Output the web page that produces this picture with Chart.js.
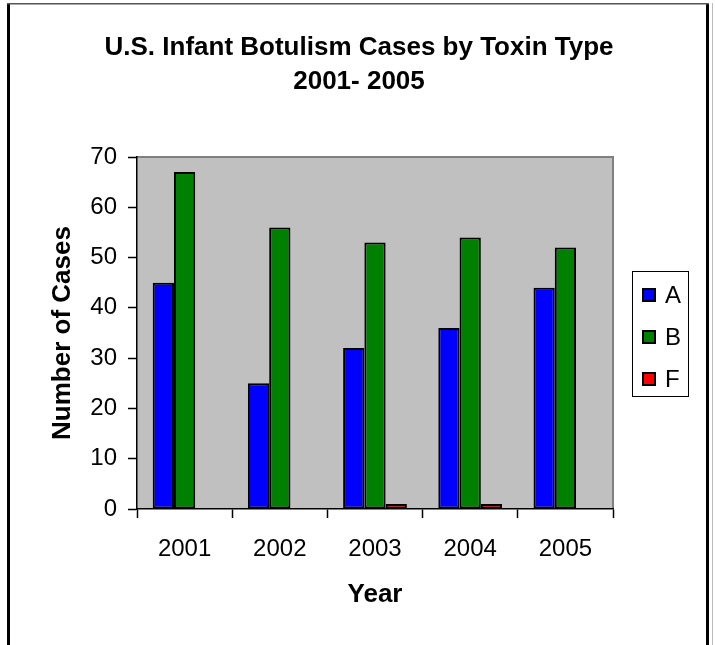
<!DOCTYPE html>
<html><head><meta charset="utf-8">
<script src="https://cdn.jsdelivr.net/npm/chart.js@4"></script>
<style>html,body{margin:0;padding:0;background:#fff;} #wrap{position:relative;width:715px;height:645px;}</style>
</head><body><div id="wrap"><canvas id="c" width="715" height="645"></canvas></div>
<script>
const years = ['2001', '2002', '2003', '2004', '2005'];
const typeA = [45, 25, 32, 36, 44];
const typeB = [67, 56, 53, 54, 52];
const typeF = [0, 0, 1, 1, 0];
const seriesNames = ['A', 'B', 'F'];
const seriesColors = ['#0000FF', '#008000', '#FF0000'];
const yMin = 0, yMax = 70, yStep = 10;
const titleLines = ['U.S. Infant Botulism Cases by Toxin Type', '2001- 2005'];
const xTitle = 'Year';
const yTitle = 'Number of Cases';

const FONT = "'Liberation Sans', Arial, sans-serif";

const decor = {
  id: 'decor',
  beforeDraw(chart) {
    const {ctx, chartArea: a} = chart;
    ctx.save();
    ctx.fillStyle = '#ffffff';
    ctx.fillRect(0, 0, chart.width, chart.height);
    ctx.fillStyle = '#C0C0C0';
    ctx.fillRect(a.left, a.top, a.right - a.left, a.bottom - a.top);
    ctx.strokeStyle = '#808080';
    ctx.lineWidth = 2;
    ctx.beginPath();
    ctx.moveTo(a.left, a.top);
    ctx.lineTo(a.right, a.top);
    ctx.lineTo(a.right, a.bottom);
    ctx.stroke();
    ctx.restore();
  },
  afterDraw(chart) {
    const {ctx} = chart;
    ctx.save();
    // title
    ctx.fillStyle = '#000';
    ctx.font = 'bold 26px ' + FONT;
    ctx.textAlign = 'center';
    ctx.textBaseline = 'middle';
    ctx.fillText(titleLines[0], 359, 48);
    ctx.fillText(titleLines[1], 359, 82);
    // legend
    ctx.strokeStyle = '#000';
    ctx.lineWidth = 1;
    ctx.strokeRect(632.5, 271.5, 56, 125);
    const ds = chart.data.datasets;
    const ys = [295, 337, 379];
    ctx.font = '24px ' + FONT;
    ctx.textAlign = 'left';
    ds.forEach((d, i) => {
      ctx.fillStyle = d.backgroundColor;
      ctx.fillRect(643, ys[i] - 6, 12, 12);
      ctx.lineWidth = 2;
      ctx.strokeRect(643, ys[i] - 6, 12, 12);
      ctx.fillStyle = '#000';
      ctx.fillText(d.label, 665, ys[i] + 1);
    });
    // outer frame
    ctx.fillStyle = '#000';
    ctx.fillRect(7, 3, 3, 642);
    ctx.fillRect(706, 3, 3, 642);
    ctx.fillStyle = '#555';
    ctx.fillRect(7, 3, 702, 1.5);
    ctx.fillStyle = '#bbb';
    ctx.fillRect(712, 3, 1, 642);
    ctx.restore();
  }
};

new Chart(document.getElementById('c'), {
  type: 'bar',
  data: {
    labels: years,
    datasets: [
      {label: seriesNames[0], data: typeA, backgroundColor: seriesColors[0]},
      {label: seriesNames[1], data: typeB, backgroundColor: seriesColors[1]},
      {label: seriesNames[2], data: typeF, backgroundColor: seriesColors[2]}
    ].map(d => Object.assign(d, {borderColor: '#000', borderWidth: 2, borderSkipped: false, categoryPercentage: 0.67, barPercentage: 1}))
  },
  options: {
    responsive: false,
    animation: false,
    devicePixelRatio: 1,
    layout: {padding: {top: 157, right: 102, left: 0, bottom: 0}},
    plugins: {legend: {display: false}, title: {display: false}, tooltip: {enabled: false}},
    scales: {
      x: {
        grid: {offset: true, drawOnChartArea: false, tickLength: 9, tickColor: '#000', tickWidth: 1.5},
        border: {color: '#000', width: 1.5},
        ticks: {color: '#000', font: {family: FONT, size: 24}, padding: 17, maxRotation: 0},
        title: {display: true, text: xTitle, color: '#000', font: {family: FONT, size: 26, weight: 'bold'}, padding: {top: 0, bottom: 35}},
        afterFit(s) { s.height = 136; }
      },
      y: {
        min: yMin, max: yMax,
        ticks: {stepSize: yStep, color: '#000', font: {family: FONT, size: 24}, padding: 11},
        grid: {drawOnChartArea: false, tickLength: 9, tickColor: '#000', tickWidth: 1.5},
        border: {color: '#000', width: 1.5},
        title: {display: true, text: yTitle, color: '#000', font: {family: FONT, size: 26, weight: 'bold'}, padding: {top: 47, bottom: 0}},
        afterFit(s) { s.width = 137; }
      }
    }
  },
  plugins: [decor]
});
</script>
</body></html>
